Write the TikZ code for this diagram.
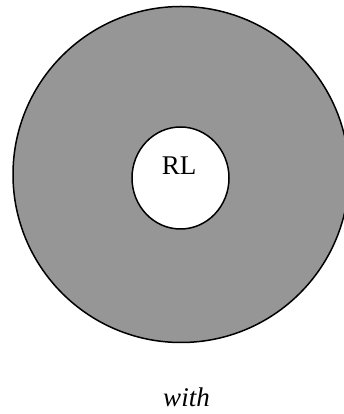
\documentclass[tikz,border=0pt]{standalone}
\usepackage{fontspec}
\setmainfont{Liberation Serif}
\usetikzlibrary{shapes.geometric}
\definecolor{ringgray}{RGB}{150,150,150}

\begin{document}
\begin{tikzpicture}[
	x=1pt, y=1pt,
	ring/.style = {circle, draw=black, fill=ringgray, line width=1.5pt, minimum size=336pt, inner sep=0pt},
	hole/.style = {ellipse, draw=black, fill=white, line width=1.5pt, minimum width=97pt, minimum height=102pt, inner sep=0pt},
	t/.style = {font=\fontsize{27}{32}\selectfont, inner sep=0pt, anchor=base}
	]
	\useasboundingbox (0, 0) rectangle (344, 414);
	
	%Nodes
	\node[ring]	(disk)	at	(181, 239.5)	{};
	\node[hole]	(rl)	at	(180.5, 236)	{};
	\node[t]	(rl-t)	at	(179, 239)	{RL};
	\node[t]	(with)	at	(186.5, 7)	{\itshape with};
	
\end{tikzpicture}
\end{document}
